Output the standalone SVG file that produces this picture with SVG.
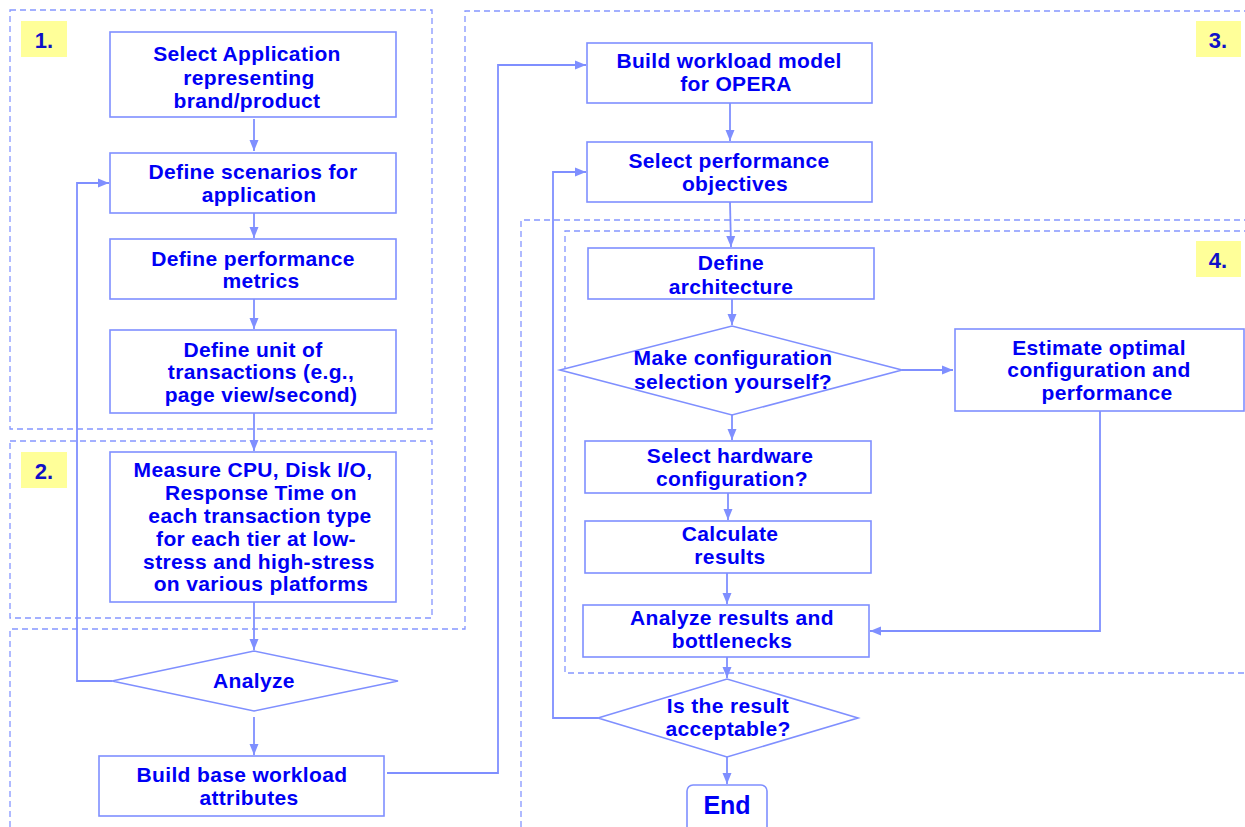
<svg xmlns="http://www.w3.org/2000/svg" width="1245" height="827" viewBox="0 0 1245 827">
<defs>
<marker id="ah" markerWidth="12" markerHeight="12" viewBox="0 0 12 12" refX="11" refY="6" orient="auto" markerUnits="userSpaceOnUse">
<path d="M0,1.5 L11,6 L0,10.5 Z" fill="#7f8fff"/>
</marker>
<style>
.box{fill:#fff;stroke:#7f8fff;stroke-width:1.6}
.reg{fill:none;stroke:#8596ff;stroke-width:1.3;stroke-dasharray:6 4}
.c{fill:none;stroke:#7f8fff;stroke-width:1.8}
.a{marker-end:url(#ah)}
text{font-family:"Liberation Sans",Arial,sans-serif;font-weight:bold;font-size:21px;letter-spacing:0.35px;fill:#0000f5;text-anchor:middle}
.lab{fill:#ffff99;stroke:none}
.lt{font-size:22px;fill:#1010c8;letter-spacing:0}
</style>
</defs>
<rect width="1245" height="827" fill="#fff"/>
<g id="regions">
<rect class="reg" x="10" y="10" width="422" height="419"/>
<rect class="reg" x="10" y="441" width="422" height="177"/>
<polyline class="reg" points="10,827 10,629 465,629 465,11 1250,11"/>
<polyline class="reg" points="521,827 521,220 1250,220"/>
<polyline class="reg" points="1250,231 565,231 565,673 1250,673"/>
</g>
<g id="labels">
<rect class="lab" x="21" y="21" width="46" height="36"/><text class="lt" x="44" y="48">1.</text>
<rect class="lab" x="21" y="452" width="46" height="36"/><text class="lt" x="44" y="479">2.</text>
<rect class="lab" x="1196" y="21" width="45" height="36"/><text class="lt" x="1218" y="48">3.</text>
<rect class="lab" x="1196" y="241" width="45" height="36"/><text class="lt" x="1218" y="268">4.</text>
</g>
<g id="connectors">
<line class="c a" x1="254" y1="119" x2="254" y2="151"/>
<line class="c a" x1="254" y1="213" x2="254" y2="238"/>
<line class="c a" x1="254" y1="299" x2="254" y2="329"/>
<line class="c a" x1="254" y1="413" x2="254" y2="451"/>
<line class="c a" x1="254" y1="602" x2="254" y2="650"/>
<line class="c a" x1="254" y1="717" x2="254" y2="755"/>
<polyline class="c a" points="112,681 77,681 77,183 109,183"/>
<polyline class="c a" points="387,773 498,773 498,65 586,65"/>
<line class="c a" x1="730" y1="103" x2="730" y2="141"/>
<line class="c a" x1="730" y1="202" x2="731" y2="247"/>
<line class="c a" x1="732" y1="299" x2="732" y2="325"/>
<line class="c a" x1="732" y1="415" x2="732" y2="440"/>
<line class="c a" x1="728" y1="493" x2="728" y2="520"/>
<line class="c a" x1="727" y1="573" x2="727" y2="604"/>
<polyline class="c a" points="1100,411 1100,631 870,631"/>
<line class="c a" x1="727" y1="657" x2="727" y2="678"/>
<line class="c a" x1="902" y1="370" x2="953" y2="370"/>
<polyline class="c a" points="598,718 553,718 553,172 586,172"/>
<line class="c a" x1="727" y1="757" x2="727" y2="784"/>
</g>
<g id="n1">
<rect class="box" x="110" y="32" width="286" height="85"/>
<text x="247" y="61">Select Application</text>
<text x="249" y="85">representing</text>
<text x="247" y="108">brand/product</text>
</g>
<g id="n2">
<rect class="box" x="110" y="153" width="286" height="60"/>
<text x="253" y="179">Define scenarios for</text>
<text x="259" y="202">application</text>
</g>
<g id="n3">
<rect class="box" x="110" y="239" width="286" height="60"/>
<text x="253" y="266">Define performance</text>
<text x="261" y="288">metrics</text>
</g>
<g id="n4">
<rect class="box" x="110" y="330" width="286" height="83"/>
<text x="253" y="357">Define unit of</text>
<text x="261" y="379">transactions (e.g.,</text>
<text x="261" y="402">page view/second)</text>
</g>
<g id="n5">
<rect class="box" x="110" y="452" width="286" height="150"/>
<text x="253" y="477">Measure CPU, Disk I/O,</text>
<text x="261" y="500">Response Time on</text>
<text x="260" y="523">each transaction type</text>
<text x="256" y="546">for each tier at low-</text>
<text x="259" y="569">stress and high-stress</text>
<text x="261" y="591">on various platforms</text>
</g>
<g id="n6">
<polygon class="box" points="112,681 254,651 398,681 254,711"/>
<text x="254" y="688">Analyze</text>
</g>
<g id="n7">
<rect class="box" x="99" y="756" width="285" height="60"/>
<text x="242" y="782">Build base workload</text>
<text x="249" y="805">attributes</text>
</g>
<g id="n8">
<rect class="box" x="587" y="43" width="285" height="60"/>
<text x="729" y="68">Build workload model</text>
<text x="736" y="91">for OPERA</text>
</g>
<g id="n9">
<rect class="box" x="587" y="142" width="285" height="60"/>
<text x="729" y="168">Select performance</text>
<text x="735" y="191">objectives</text>
</g>
<g id="n10">
<rect class="box" x="588" y="248" width="286" height="51"/>
<text x="731" y="270">Define</text>
<text x="731" y="294">architecture</text>
</g>
<g id="n11">
<polygon class="box" points="560,370 732,326 902,370 732,415"/>
<text x="733" y="365">Make configuration</text>
<text x="733" y="389">selection yourself?</text>
</g>
<g id="n12">
<rect class="box" x="955" y="329" width="289" height="82"/>
<text x="1099" y="355">Estimate optimal</text>
<text x="1099" y="377">configuration and</text>
<text x="1107" y="400">performance</text>
</g>
<g id="n13">
<rect class="box" x="585" y="441" width="286" height="52"/>
<text x="730" y="463">Select hardware</text>
<text x="732" y="486">configuration?</text>
</g>
<g id="n14">
<rect class="box" x="585" y="521" width="286" height="52"/>
<text x="730" y="541">Calculate</text>
<text x="730" y="564">results</text>
</g>
<g id="n15">
<rect class="box" x="583" y="605" width="286" height="52"/>
<text x="732" y="625">Analyze results and</text>
<text x="732" y="648">bottlenecks</text>
</g>
<g id="n16">
<polygon class="box" points="598,718 727,679 858,718 727,757"/>
<text x="728" y="713">Is the result</text>
<text x="728" y="736">acceptable?</text>
</g>
<g id="n17">
<rect class="box" x="687" y="785" width="80" height="48" rx="6"/>
<text x="727" y="814" style="font-size:25px;letter-spacing:0">End</text>
</g>
</svg>
